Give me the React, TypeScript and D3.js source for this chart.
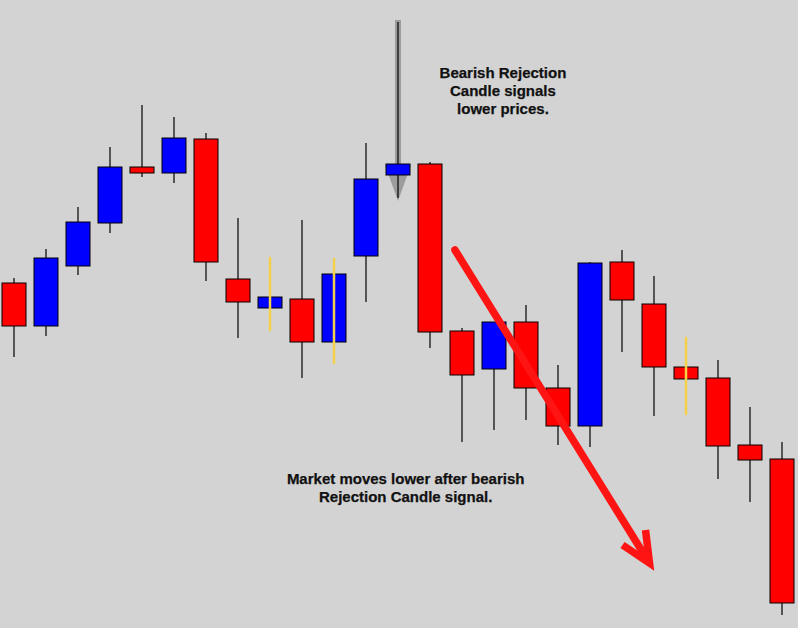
import React from "react";
import * as d3 from "d3";

// OHLC series (price units), one entry per session
const opens = [717, 674, 734, 777, 833, 827, 861, 721, 692, 701, 658, 744, 825, 836, 669, 631, 678, 612, 574, 738, 696, 633, 622, 555, 541];
const highs = [722, 751, 793, 853, 895, 883, 867, 782, 743, 780, 742, 857, 978, 838, 672, 678, 695, 635, 738, 750, 724, 663, 640, 593, 558];
const lows = [643, 664, 725, 767, 823, 817, 719, 662, 669, 622, 636, 698, 802, 652, 558, 570, 580, 555, 553, 648, 584, 585, 521, 498, 385];
const closes = [674, 742, 778, 833, 827, 862, 738, 698, 703, 658, 726, 821, 836, 668, 625, 678, 612, 574, 737, 700, 633, 621, 554, 540, 397];
// sessions whose wick is highlighted
const highlighted = [8, 10, 21];

// annotation anchors (session index, price)
const signalIndex = 12;
const signalArrowTop = 980;
const signalArrowTip = 800;
const trendFrom: [number, number] = [13.78, 750];
const trendTo: [number, number] = [19.86, 437];

const noteTop = ["Bearish Rejection", "Candle signals", "lower prices."];
const noteTopAnchor: [number, number] = [15.28, 922];
const noteBottom = ["Market moves lower after bearish", "Rejection Candle signal."];
const noteBottomAnchor: [number, number] = [12.24, 516];

const W = 798;
const H = 628;

export default function App() {
  const idx = d3.range(opens.length);
  const x = d3.scalePoint<number>().domain(idx).range([14, 782]);
  const xi = d3.scaleLinear().domain([0, opens.length - 1]).range([14, 782]);
  const y = d3.scaleLinear().domain([1000 - H, 1000]).range([H, 0]);
  const bodyW = 24;

  const tx0 = xi(trendFrom[0]);
  const ty0 = y(trendFrom[1]);
  const tx1 = xi(trendTo[0]);
  const ty1 = y(trendTo[1]);

  const gx = x(signalIndex)!;
  const gTop = y(signalArrowTop);
  const gTip = y(signalArrowTip);

  const fontFamily = "'Liberation Sans', Arial, sans-serif";

  return (
    <div style={{ position: "fixed", left: 0, top: 0 }}>
      <svg width={W} height={H} style={{ display: "block" }}>
        <rect width={W} height={H} fill="#d3d3d3" />

        {/* signal pointer behind the candles */}
        <g opacity={0.75}>
          <line x1={gx} x2={gx} y1={gTop} y2={gTip - 30} stroke="#8a8a8a" strokeWidth={6} />
          <path d={`M${gx - 13},${gTip - 35} L${gx + 13},${gTip - 35} L${gx},${gTip + 1} Z`} fill="#8a8a8a" />
        </g>

        {/* wicks */}
        {idx.map((i) =>
          highlighted.includes(i) ? null : (
            <line key={`w${i}`} x1={x(i)} x2={x(i)} y1={y(highs[i])} y2={y(lows[i])} stroke="#000" strokeWidth={1.2} />
          )
        )}

        {/* bodies */}
        {idx.map((i) => {
          const up = closes[i] >= opens[i];
          const top = y(Math.max(opens[i], closes[i]));
          const bot = y(Math.min(opens[i], closes[i]));
          return (
            <rect
              key={`b${i}`}
              x={x(i)! - bodyW / 2}
              y={top}
              width={bodyW}
              height={Math.max(bot - top, 1)}
              fill={up ? "#0000ff" : "#ff0000"}
              stroke="#000"
              strokeWidth={1}
            />
          );
        })}

        {/* highlighted wicks drawn over the body */}
        {highlighted.map((i) => (
          <line key={`h${i}`} x1={x(i)} x2={x(i)} y1={y(highs[i])} y2={y(lows[i])} stroke="#f2d04a" strokeWidth={2.5} />
        ))}

        {/* trend arrow */}
        <g stroke="#ff1414" strokeWidth={7.5} fill="none" strokeLinejoin="miter">
          <line x1={tx0} y1={ty0} x2={tx1 - 2} y2={ty1 - 3} strokeLinecap="round" />
          <polyline points={`${tx1 - 27},${ty1 - 18} ${tx1},${ty1} ${tx1 - 4},${ty1 - 33}`} />
        </g>

        {/* notes */}
        <g fontFamily={fontFamily} fontWeight="bold" fontSize={15} fill="#111" textAnchor="middle" stroke="#111" strokeWidth={0.25}>
          {noteTop.map((t, k) => (
            <text key={`t${k}`} x={xi(noteTopAnchor[0])} y={y(noteTopAnchor[1]) + k * 18}>
              {t}
            </text>
          ))}
          {noteBottom.map((t, k) => (
            <text key={`m${k}`} x={xi(noteBottomAnchor[0])} y={y(noteBottomAnchor[1]) + k * 18}>
              {t}
            </text>
          ))}
        </g>
      </svg>
    </div>
  );
}
